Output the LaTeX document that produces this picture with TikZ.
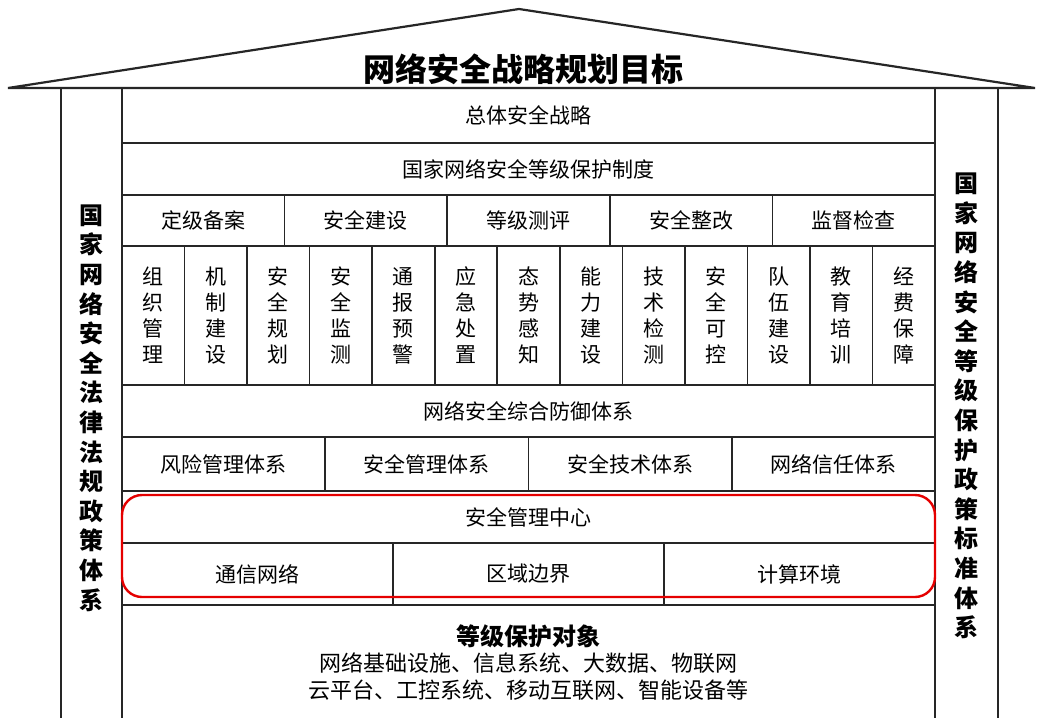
\documentclass[tikz,border=0pt]{standalone}
\usepackage{fontspec}
\setmainfont{Noto Sans CJK SC}
\usetikzlibrary{positioning}

\begin{document}
\begin{tikzpicture}[
  x=1pt,y=-1pt,
  line width=1.6pt,
  frame/.style={line width=2.2pt,draw=black!85},
  cell/.style 2 args={draw=black!85,rectangle,inner sep=0pt,
    minimum width=#1,minimum height=#2,font=\fontsize{21}{21}\selectfont},
  vcell/.style={cell={62.54}{139},align=center,font=\fontsize{21}{26}\selectfont},
  pillar/.style={align=center,font=\bfseries\fontsize{24}{29.6}\selectfont},
  focus/.style={draw=red!90!black,line width=2.4pt,rounded corners=20pt}
  ]
  \useasboundingbox[fill=white] (0,0) rectangle (1037,718);
  % Roof and title
  \draw[frame,line join=miter] (8,88) -- (519,9) -- (1035,88) -- cycle;
  \node[font=\bfseries\fontsize{32}{32}\selectfont] (goal) at (523,69) {网络安全战略规划目标};
  % Pillars
  \draw[frame] (61,88) -- (61,718);
  \draw[frame] (998,88) -- (998,718);
  \node[pillar] (lawtext) at (91.5,408) {国\\家\\网\\络\\安\\全\\法\\律\\法\\规\\政\\策\\体\\系};
  \node[pillar] (stdtext) at (966.5,406) {国\\家\\网\\络\\安\\全\\等\\级\\保\\护\\政\\策\\标\\准\\体\\系};
  % Rows
  \node[cell={813}{55}] (strategy) at (528.5,115.5) {总体安全战略};
  \node[cell={813}{52}] (system) at (528.5,169) {国家网络安全等级保护制度};
  \node[cell={162.6}{51}] (filing) at (203.3,220.5) {定级备案};
  \node[cell={162.6}{51}] (build) at (365.9,220.5) {安全建设};
  \node[cell={162.6}{51}] (assess) at (528.5,220.5) {等级测评};
  \node[cell={162.6}{51}] (rectify) at (691.1,220.5) {安全整改};
  \node[cell={162.6}{51}] (inspect) at (853.7,220.5) {监督检查};
  \node[vcell] (org) at (153.27,315.5) {组\\织\\管\\理};
  \node[vcell] (mech) at (215.81,315.5) {机\\制\\建\\设};
  \node[vcell] (plan) at (278.35,315.5) {安\\全\\规\\划};
  \node[vcell] (monitor) at (340.89,315.5) {安\\全\\监\\测};
  \node[vcell] (alert) at (403.43,315.5) {通\\报\\预\\警};
  \node[vcell] (response) at (465.97,315.5) {应\\急\\处\\置};
  \node[vcell] (aware) at (528.5,315.5) {态\\势\\感\\知};
  \node[vcell] (ability) at (591.04,315.5) {能\\力\\建\\设};
  \node[vcell] (techchk) at (653.58,315.5) {技\\术\\检\\测};
  \node[vcell] (control) at (716.12,315.5) {安\\全\\可\\控};
  \node[vcell] (team) at (778.66,315.5) {队\\伍\\建\\设};
  \node[vcell] (train) at (841.2,315.5) {教\\育\\培\\训};
  \node[vcell] (fund) at (903.74,315.5) {经\\费\\保\\障};
  \node[cell={813}{52}] (defense) at (528.5,411) {网络安全综合防御体系};
  \node[cell={203.25}{54}] (risk) at (223.6,464) {风险管理体系};
  \node[cell={203.25}{54}] (mgmt) at (426.9,464) {安全管理体系};
  \node[cell={203.25}{54}] (tech) at (630.1,464) {安全技术体系};
  \node[cell={203.25}{54}] (trust) at (833.4,464) {网络信任体系};
  \node[cell={813}{52}] (center) at (528.5,517) {安全管理中心};
  \node[cell={271}{62}] (network) at (257.5,574) {通信网络};
  \node[cell={271}{62}] (boundary) at (528.5,574) {区域边界};
  \node[cell={271}{62}] (compute) at (799.5,574) {计算环境};
  % Protected objects
  \node[font=\bfseries\fontsize{24}{24}\selectfont] (objects) at (528.5,636) {等级保护对象};
  \node[align=center,font=\fontsize{22}{27}\selectfont,below=-3pt of objects] (objlist)
    {网络基础设施、信息系统、大数据、物联网\\云平台、工控系统、移动互联网、智能设备等};
  % Building outline
  \draw[frame] (122,718) -- (122,88);
  \draw[frame] (935,718) -- (935,88);
  % Highlight
  \draw[focus] (122,495) rectangle (935,597);
\end{tikzpicture}
\end{document}
